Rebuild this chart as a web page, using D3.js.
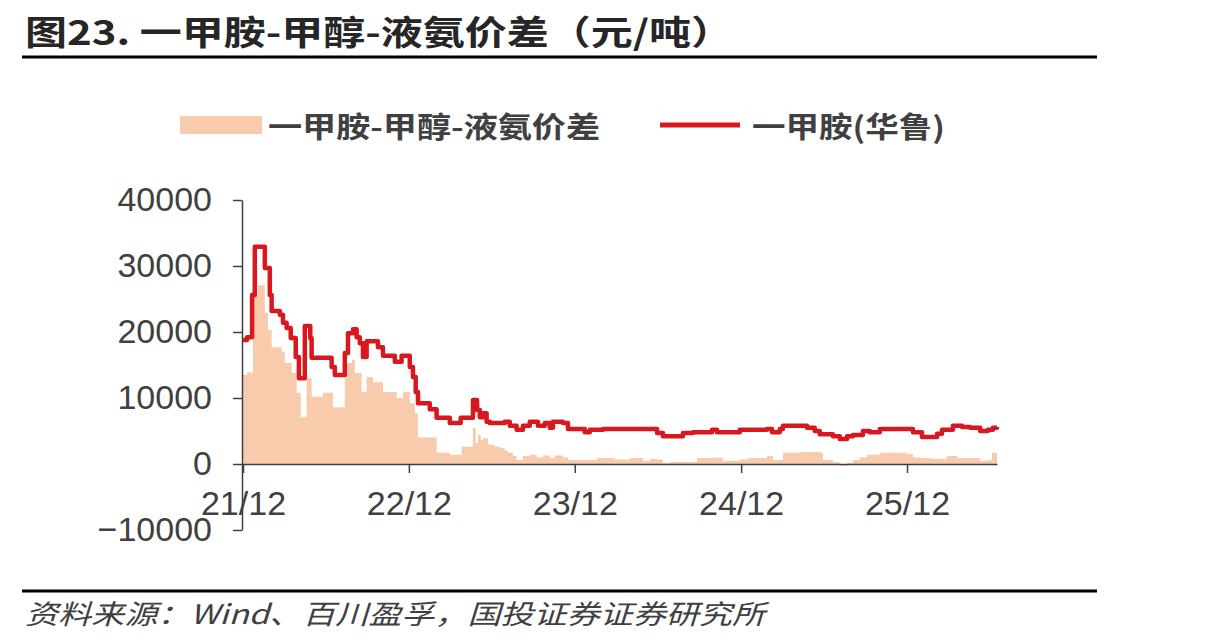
<!DOCTYPE html>
<html>
<head>
<meta charset="utf-8">
<script src="https://cdn.jsdelivr.net/npm/d3@7"></script>
<style>
html,body{margin:0;padding:0;background:#fff;}
svg{display:block;}
</style>
</head>
<body>
<svg id="chart" width="1213" height="644"></svg>
<script>
// ---- data ----
const titleText = "图23. 一甲胺-甲醇-液氨价差（元/吨）";
const sourceText = "资料来源：Wind、百川盈孚，国投证券证券研究所";
const seriesNames = ["一甲胺-甲醇-液氨价差", "一甲胺(华鲁)"];
const yTicks = [-10000, 0, 10000, 20000, 30000, 40000];
const xTickDates = ["2021-12-01", "2022-12-01", "2023-12-01", "2024-12-01", "2025-12-01"];
const xTickLabels = ["21/12", "22/12", "23/12", "24/12", "25/12"];

const spreadDates = ["2021-12-01","2021-12-10","2021-12-21","2021-12-23","2022-01-03","2022-01-18","2022-01-25","2022-02-02","2022-02-24","2022-03-03","2022-03-18","2022-03-29","2022-04-07","2022-04-20","2022-05-01","2022-05-26","2022-06-17","2022-07-13","2022-07-29","2022-08-04","2022-08-19","2022-08-30","2022-09-13","2022-10-05","2022-11-04","2022-11-18","2022-12-03","2022-12-14","2022-12-21","2023-01-31","2023-03-01","2023-03-27","2023-04-21","2023-04-27","2023-05-02","2023-05-08","2023-05-13","2023-05-24","2023-06-08","2023-06-19","2023-06-30","2023-07-07","2023-07-18","2023-07-26","2023-08-09","2023-08-24","2023-09-08","2023-09-22","2023-10-07","2023-10-18","2023-11-05","2023-11-16","2024-01-03","2024-01-19","2024-02-27","2024-03-31","2024-04-29","2024-05-14","2024-05-30","2024-06-12","2024-06-27","2024-08-10","2024-08-26","2024-09-30","2024-10-22","2024-11-28","2024-12-16","2025-01-11","2025-01-27","2025-02-09","2025-03-03","2025-04-09","2025-05-23","2025-05-30","2025-06-21","2025-07-06","2025-07-22","2025-08-04","2025-08-19","2025-09-04","2025-10-02","2025-11-15","2025-12-01","2025-12-14","2025-12-30","2026-01-20","2026-02-11","2026-02-27","2026-03-21","2026-04-25","2026-05-11","2026-05-28","2026-06-06","2026-06-17"];
const spreadValues = [13500,13900,13700,25600,27100,22900,20300,17700,17000,15300,13800,10800,7100,13000,10200,10800,8600,15300,15800,13800,10900,13200,12400,10900,10000,10900,9200,7700,4000,1700,1400,2600,5500,3200,4400,3600,3900,2900,2600,2400,2000,1700,1200,600,1200,1400,1000,1300,900,1300,1000,600,600,900,700,900,500,800,700,150,300,300,900,1000,500,700,900,900,1200,600,1700,1800,1700,600,300,-300,200,600,1000,1400,1700,1700,1500,1000,900,800,800,1200,900,900,500,600,1700,1800];

const priceDates = ["2021-12-01","2021-12-10","2021-12-21","2021-12-27","2022-01-18","2022-01-29","2022-02-02","2022-02-20","2022-02-27","2022-03-07","2022-03-16","2022-03-27","2022-04-03","2022-04-16","2022-04-28","2022-05-01","2022-06-14","2022-06-21","2022-07-13","2022-07-20","2022-07-31","2022-08-08","2022-08-15","2022-08-22","2022-08-30","2022-09-24","2022-10-05","2022-10-31","2022-11-15","2022-12-03","2022-12-10","2022-12-16","2022-12-21","2023-01-16","2023-01-31","2023-03-01","2023-03-25","2023-04-21","2023-04-30","2023-05-06","2023-05-13","2023-05-21","2023-05-28","2023-06-30","2023-07-11","2023-07-26","2023-08-09","2023-08-24","2023-09-11","2023-09-26","2023-10-07","2023-10-14","2023-11-05","2023-11-16","2023-12-23","2024-01-03","2024-02-01","2024-05-30","2024-06-12","2024-07-26","2024-08-17","2024-09-28","2024-10-09","2024-11-28","2025-01-27","2025-02-07","2025-02-24","2025-03-03","2025-04-25","2025-05-12","2025-05-23","2025-06-21","2025-07-06","2025-07-22","2025-08-04","2025-08-26","2025-09-10","2025-10-02","2025-12-14","2026-01-03","2026-02-05","2026-02-16","2026-03-12","2026-04-01","2026-04-19","2026-05-11","2026-05-28","2026-06-08","2026-06-17"];
const priceValues = [18800,19200,25600,32900,29700,25600,23200,22600,21400,20600,19100,16200,13000,20900,19100,16100,14700,13500,16800,19800,20400,19200,18300,16200,18600,17700,16400,15500,16400,14700,13200,10900,9200,8300,7000,6200,7000,9700,8200,7100,7700,6400,6200,6400,5800,5200,5800,6400,5800,6200,5500,6400,6200,5300,4800,5200,5300,4700,4200,4700,4800,5200,4800,5200,5300,4800,5300,5800,5500,5000,4500,4200,3800,4200,4400,5000,4800,5300,4800,4100,4600,5200,5800,5600,5500,5000,5200,5500,5600];

// ---- drawing ----
const parse = d3.timeParse("%Y-%m-%d");
const spread = spreadDates.map((d, i) => ({date: parse(d), v: spreadValues[i]}));
const price = priceDates.map((d, i) => ({date: parse(d), v: priceValues[i]}));

const svg = d3.select("#chart");
svg.append("rect").attr("width", 1213).attr("height", 644).attr("fill", "#fff");

const x = d3.scaleTime()
  .domain([parse("2021-12-01"), parse("2026-06-17")])
  .range([243, 997]);
const y = d3.scaleLinear().domain([-10000, 40000]).range([530, 200]);

const CJK = "'Noto Sans CJK SC','Noto Sans',sans-serif";
const LAT = "'Liberation Sans',Arial,sans-serif";

// title
svg.append("text").attr("x", 25).attr("y", 30)
  .attr("dominant-baseline", "central")
  .attr("font-family", CJK).attr("font-weight", "bold").attr("font-size", 34)
  .attr("fill", "#262626")
  .attr("textLength", 708).attr("lengthAdjust", "spacingAndGlyphs")
  .text(titleText);
svg.append("line").attr("x1", 22).attr("x2", 1097).attr("y1", 57).attr("y2", 57)
  .attr("stroke", "#000").attr("stroke-width", 3);

// legend
svg.append("rect").attr("x", 180).attr("y", 116).attr("width", 82).attr("height", 18)
  .attr("fill", "#F8CBAD");
svg.append("text").attr("x", 268).attr("y", 125).attr("dominant-baseline", "central")
  .attr("font-family", CJK).attr("font-weight", "bold").attr("font-size", 29)
  .attr("fill", "#404040")
  .attr("textLength", 332).attr("lengthAdjust", "spacingAndGlyphs")
  .text(seriesNames[0]);
svg.append("line").attr("x1", 660).attr("x2", 740).attr("y1", 125).attr("y2", 125)
  .attr("stroke", "#D7191F").attr("stroke-width", 5);
svg.append("text").attr("x", 752).attr("y", 125).attr("dominant-baseline", "central")
  .attr("font-family", CJK).attr("font-weight", "bold").attr("font-size", 29)
  .attr("fill", "#404040")
  .attr("textLength", 193).attr("lengthAdjust", "spacingAndGlyphs")
  .text(seriesNames[1]);

// area
const area = d3.area()
  .x(d => x(d.date))
  .y0(y(0))
  .y1(d => y(d.v))
  .curve(d3.curveStepAfter);
svg.append("path").datum(spread).attr("d", area).attr("fill", "#F8CBAD");

// axes
const yAxis = d3.axisLeft(y).tickValues(yTicks).tickSize(9).tickSizeOuter(0)
  .tickPadding(21).tickFormat(d => d < 0 ? "\u2212" + Math.abs(d) : String(d));
const gy = svg.append("g").attr("transform", "translate(242,0)").call(yAxis);
gy.select(".domain").attr("stroke", "#404040").attr("stroke-width", 1.5);
gy.selectAll(".tick line").attr("stroke", "#404040").attr("stroke-width", 1.5);
gy.selectAll("text").attr("font-family", LAT).attr("font-size", 34).attr("fill", "#404040");

const xAxis = d3.axisBottom(x).tickValues(xTickDates.map(parse)).tickSize(9).tickSizeOuter(0)
  .tickPadding(18).tickFormat((d, i) => xTickLabels[i]);
const gx = svg.append("g").attr("transform", `translate(0,${y(0)})`).call(xAxis);
gx.select(".domain").attr("stroke", "#404040").attr("stroke-width", 1.5);
gx.selectAll(".tick line").attr("stroke", "#404040").attr("stroke-width", 1.5);
gx.selectAll("text").attr("font-family", LAT).attr("font-size", 34).attr("fill", "#404040");

// line
const line = d3.line().x(d => x(d.date)).y(d => y(d.v)).curve(d3.curveStepAfter);
svg.append("path").datum(price).attr("d", line)
  .attr("fill", "none").attr("stroke", "#D7191F").attr("stroke-width", 4.5)
  .attr("stroke-linejoin", "round");

// footer
svg.append("line").attr("x1", 22).attr("x2", 1097).attr("y1", 591).attr("y2", 591)
  .attr("stroke", "#000").attr("stroke-width", 3);
svg.append("text").attr("x", 25).attr("y", 612).attr("dominant-baseline", "central")
  .attr("font-family", CJK).attr("font-style", "italic").attr("font-size", 27)
  .attr("fill", "#404040")
  .attr("textLength", 740).attr("lengthAdjust", "spacingAndGlyphs")
  .text(sourceText);
</script>
</body>
</html>
